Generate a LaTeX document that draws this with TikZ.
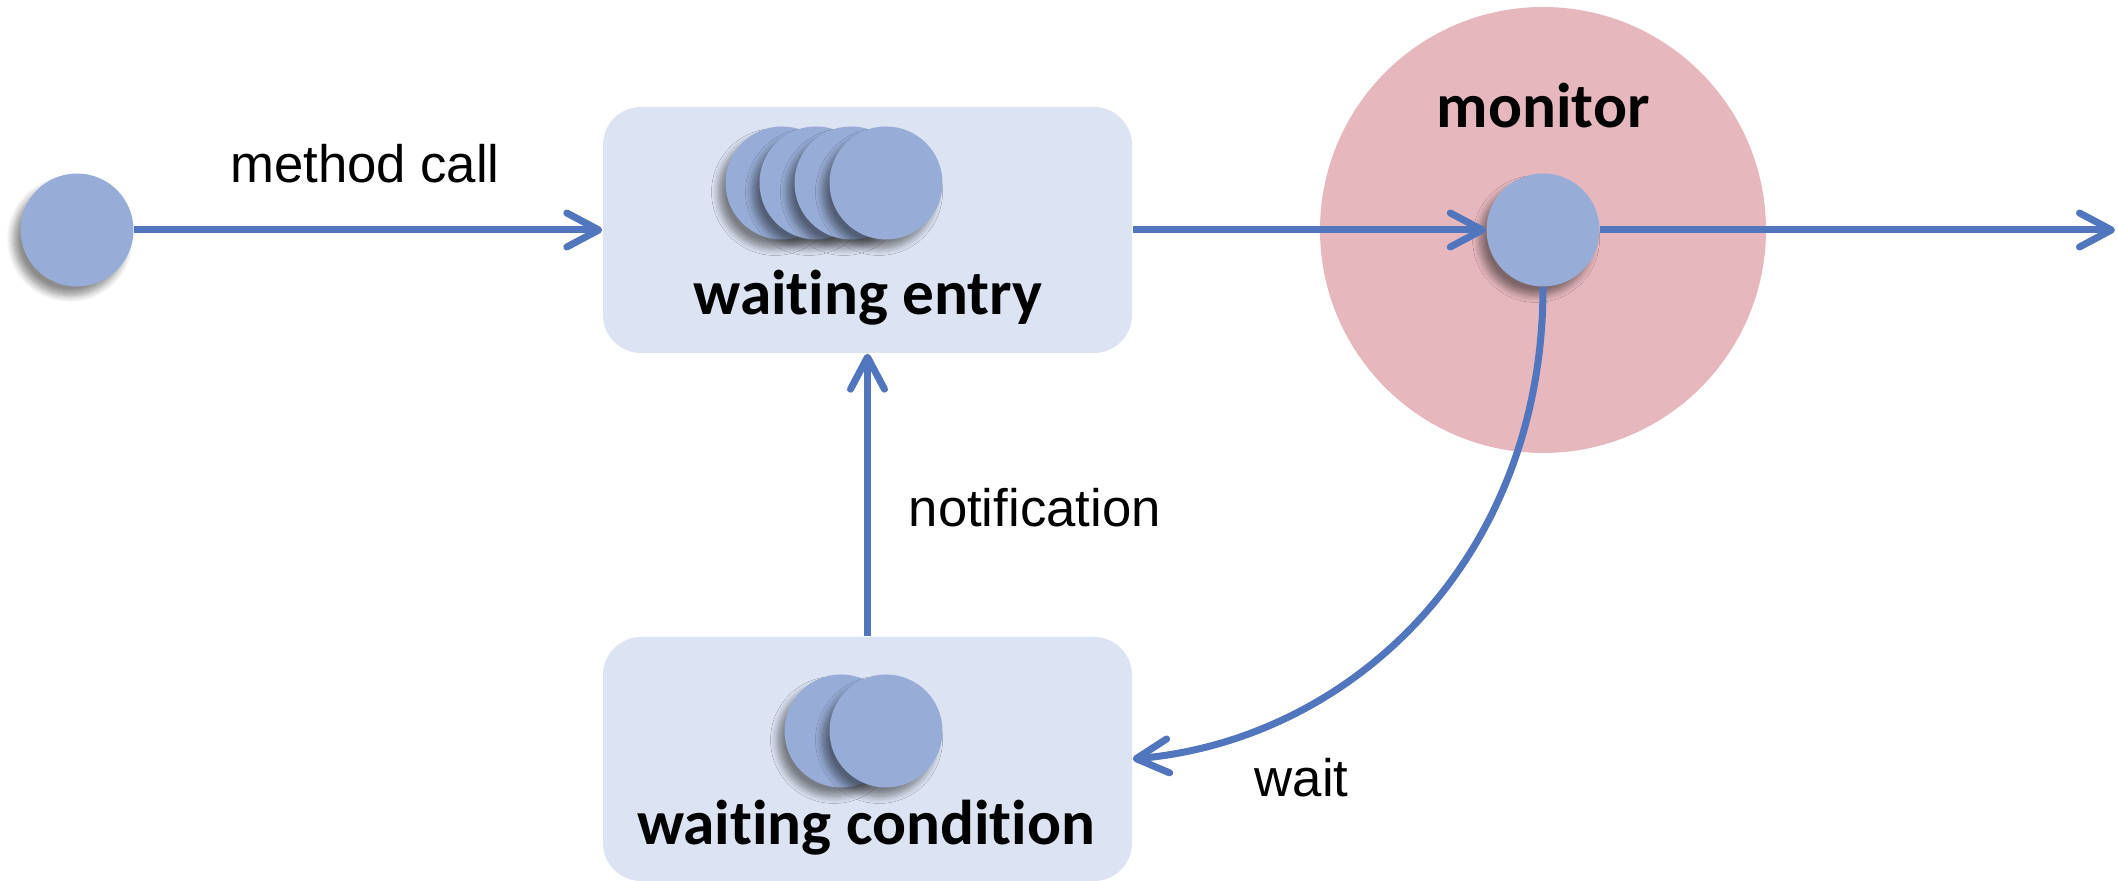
\documentclass[tikz,border=0pt]{standalone}
\usepackage{fontspec}
\setmainfont{Liberation Sans}
\newfontfamily\labelfont[Ligatures=NoCommon]{Carlito}
\usetikzlibrary{arrows.meta,shadows.blur}
\definecolor{threadblue}{RGB}{151,172,214}
\definecolor{boxblue}{RGB}{220,227,242}
\definecolor{monpink}{RGB}{230,184,190}
\definecolor{flowblue}{RGB}{82,118,190}
\begin{document}
\begin{tikzpicture}[>={Straight Barb[round,length=3.2mm,width=3.4mm]},
  thread/.style={circle, fill=threadblue, minimum size=1.13cm, inner sep=0pt,
    blur shadow={shadow xshift=-0.7mm, shadow yshift=-0.9mm, shadow blur radius=0.7mm,
      shadow blur steps=8, shadow opacity=45}},
  queue/.style={rounded corners=0.38cm, fill=boxblue, minimum width=5.29cm,
    minimum height=2.46cm, inner sep=0pt},
  flow/.style={flowblue, line width=2pt, ->},
  title/.style={font=\labelfont\bfseries\fontsize{18}{20}\selectfont},
  tag/.style={font=\fontsize{15}{18}\selectfont, inner sep=0pt}]
 \useasboundingbox (0,0) rectangle (21.18,8.81);
 \node[queue] (entry) at (8.675,6.51) {};
 \node[queue, minimum height=2.44cm] (cond) at (8.675,1.22) {};
 \node[circle, fill=monpink, minimum size=4.46cm, inner sep=0pt] (monitor) at (15.43,6.51) {};
 \node[thread] (caller) at (0.77,6.51) {};
 \foreach \x in {7.82,8.16,8.51,8.86}
 {
     \node[thread] (entry-\x) at (\x,6.98) {};
 }
 \foreach \x in {8.41,8.86}
 {
     \node[thread] (cond-\x) at (\x,1.50) {};
 }
 \node[thread] (lock) at (15.43,6.51) {};
 \node[title, anchor=base] (entrytext) at (8.68,5.66) {waiting entry};
 \node[title, anchor=base] (condtext) at (8.66,0.36) {waiting condition};
 \node[title, anchor=base] (montext) at (15.43,7.53) {monitor};
 \node[tag, anchor=base] (calltext) at (3.65,6.98) {method call};
 \node[tag, anchor=base west] (notiftext) at (9.08,3.54) {notification};
 \node[tag, anchor=base west] (waittext) at (12.54,0.84) {wait};
 \coordinate (exit) at (21.15,6.51);
 \draw[flow] (caller) -- (entry);
 \draw[flow] (entry) -- (lock);
 \draw[flow] (lock) -- (exit);
 \draw[flow] (cond) -- (entry);
 \draw[flow] (lock.south) .. controls +(0,-2.73) and +(2.18,0.19) .. (cond.east);
\end{tikzpicture}
\end{document}
